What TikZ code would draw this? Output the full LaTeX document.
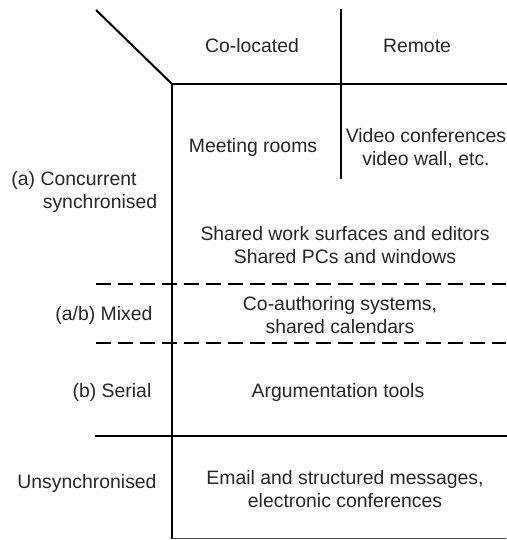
\documentclass[tikz,border=0pt]{standalone}
\usepackage{fontspec}
\setmainfont{Liberation Sans}
\begin{document}
\begin{tikzpicture}[x=1pt,y=-1pt,
  rule/.style={line width=2.8pt,line cap=rect},
  dashrule/.style={line width=2.8pt,dash pattern=on 15pt off 7pt},
  lab/.style={inner sep=0pt,font=\fontsize{19.4}{23}\selectfont,text=black!85,align=center}]
\useasboundingbox[fill=white] (0,0) rectangle (506,540);
% frame lines
\coordinate (corner) at (172,84);
\draw[line width=2pt] (96,10) -- (corner);
\draw[rule] (corner) -- (506,84);
\draw[rule] (corner) -- (172,538);
\draw[rule] (341,10) -- (341,178);
\draw[dashrule] (96,284) -- (506,284);
\draw[dashrule] (96,343) -- (506,343);
\draw[rule] (96,436) -- (506,436);
\draw[line width=1pt,black!70] (172,538) -- (506,538);
% texts
\node[lab] (colo) at (252,46) {Co-located};
\node[lab] (remote) at (417,46) {Remote};
\node[lab] (meet) at (253,147) {Meeting rooms};
\node[lab] (video) at (426,148) {Video conferences\\video wall, etc.};
\node[lab] (conc1) at (74,180) {(a) Concurrent};
\node[lab] (conc2) at (100,203) {synchronised};
\node[lab] (shared) at (345,245) {Shared work surfaces and editors\\Shared PCs and windows};
\node[lab] (mixed) at (104,315) {(a/b) Mixed};
\node[lab] (coauth) at (340,315) {Co-authoring systems,\\shared calendars};
\node[lab] (serial) at (112,392) {(b) Serial};
\node[lab] (argu) at (338,392) {Argumentation tools};
\node[lab] (unsync) at (87,483) {Unsynchronised};
\node[lab] (email) at (345,489) {Email and structured messages,\\electronic conferences};
\end{tikzpicture}
\end{document}
